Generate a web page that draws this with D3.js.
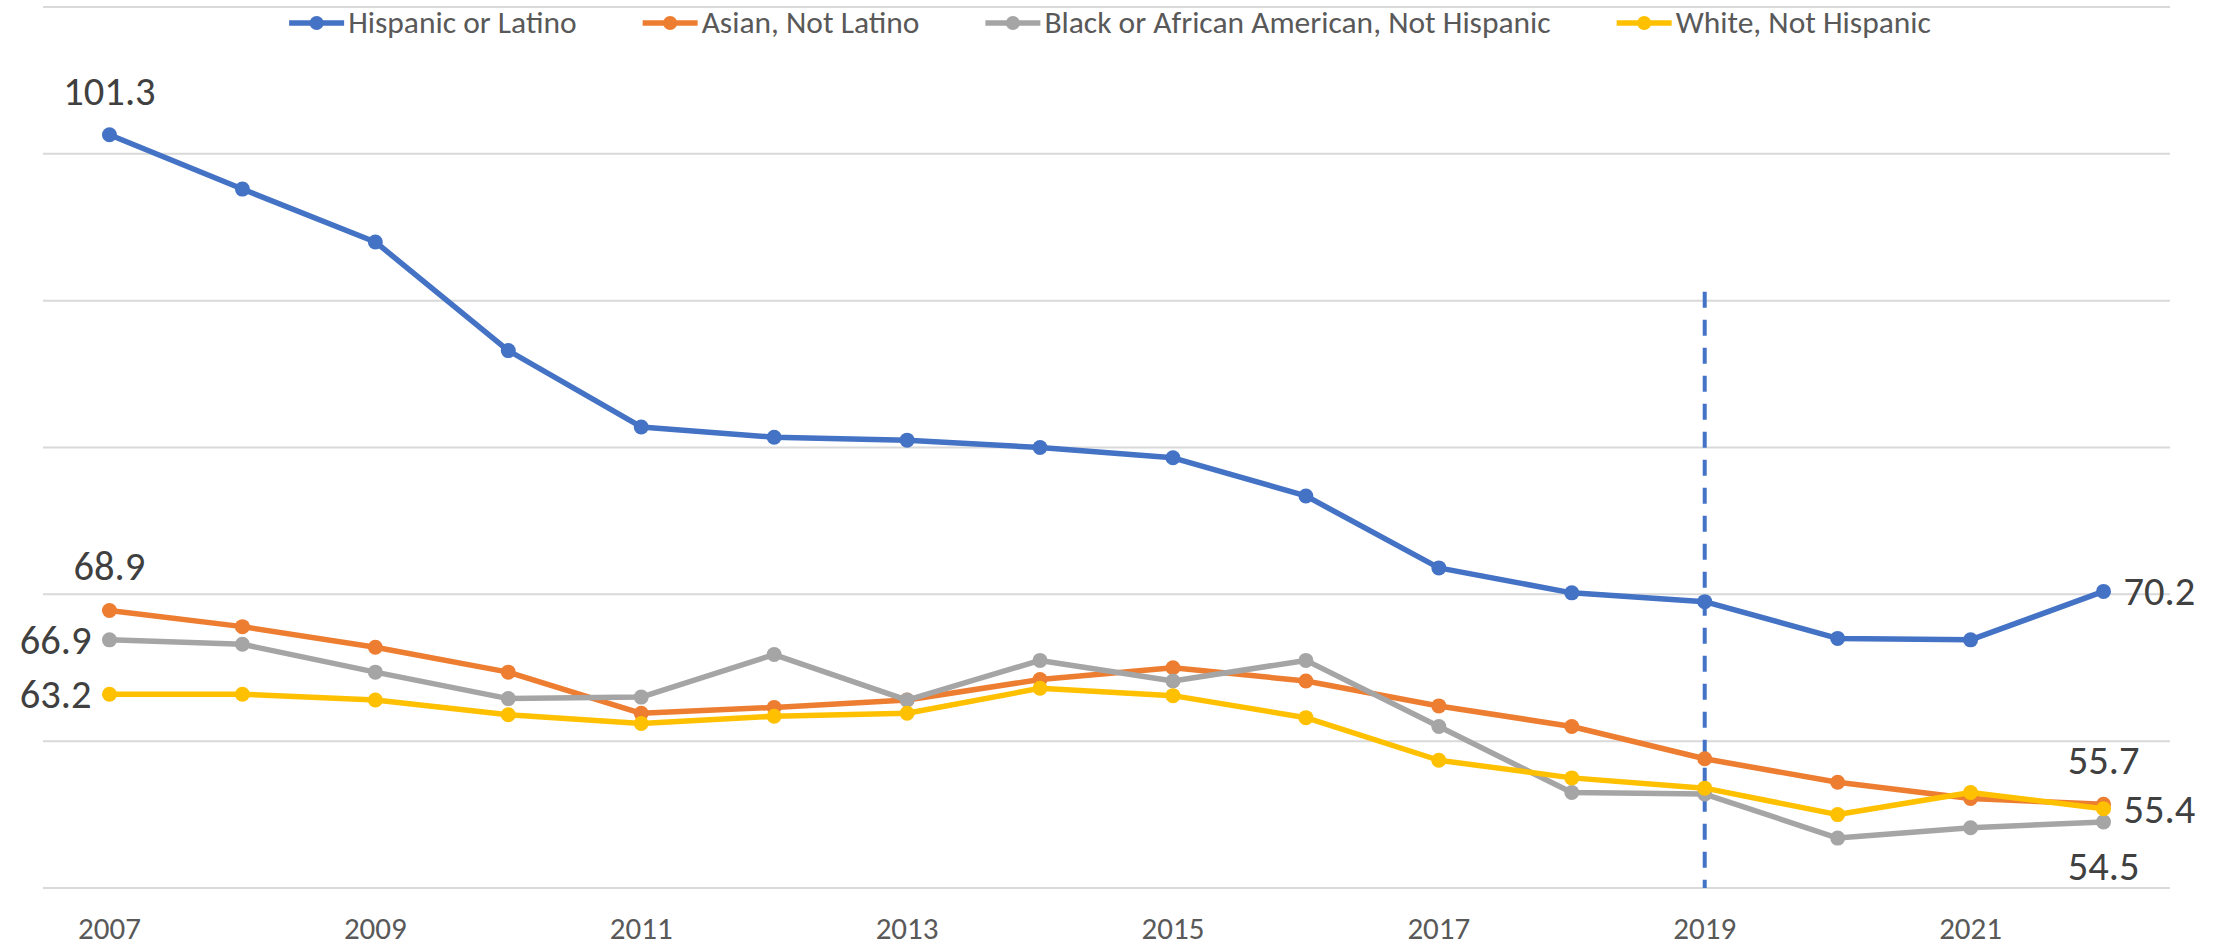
<!DOCTYPE HTML>
<html>
<head>
  <meta charset="utf-8">
</head>
<body style="margin:0;background:#fff;">
<style>
text { font-family: Carlito, Calibri, "Liberation Sans", Arial, sans-serif; }
.grid line { stroke: #d9d9d9; stroke-width: 2; }
.tick-label { fill: #595959; font-size: 31px; }
.legend text { fill: #595959; font-size: 31.5px; }
.value-label { fill: #404040; font-size: 40.5px; }
</style>
<svg width="2226" height="949"></svg>
<script src="https://d3js.org/d3.v7.min.js"></script>
<script>
var years = [2007, 2008, 2009, 2010, 2011, 2012, 2013, 2014, 2015, 2016, 2017, 2018, 2019, 2020, 2021, 2022];
var yearLabels = [2007, 2009, 2011, 2013, 2015, 2017, 2019, 2021];
var gridValues = [50, 60, 70, 80, 90, 100, 110];

var seriesNames = ["Hispanic or Latino", "Asian, Not Latino", "Black or African American, Not Hispanic", "White, Not Hispanic"];
var hispanic = [101.3, 97.6, 94.0, 86.6, 81.4, 80.7, 80.5, 80.0, 79.3, 76.7, 71.8, 70.1, 69.5, 67.0, 66.9, 70.2];
var asian    = [68.9, 67.8, 66.4, 64.7, 61.9, 62.3, 62.8, 64.2, 65.0, 64.1, 62.4, 61.0, 58.8, 57.2, 56.1, 55.7];
var black    = [66.9, 66.6, 64.7, 62.9, 63.0, 65.9, 62.8, 65.5, 64.1, 65.5, 61.0, 56.5, 56.4, 53.4, 54.1, 54.5];
var white    = [63.2, 63.2, 62.8, 61.8, 61.2, 61.7, 61.9, 63.6, 63.1, 61.6, 58.7, 57.5, 56.8, 55.0, 56.5, 55.4];
var colors = ["#4472c4", "#ed7d31", "#a5a5a5", "#ffc000"];

// labelled points: series index, point index, placement
var labels = [
  [0, 0, "above"], [1, 0, "above"], [2, 0, "left"], [3, 0, "left"],
  [0, 15, "right"], [1, 15, "above"], [3, 15, "right"], [2, 15, "below"]
];

var markerYear = 2019;
var markerTop = 90.6;

var svg = d3.select("svg");

var x = d3.scaleBand().domain(years).range([43, 2170]).padding(0);
var y = d3.scaleLinear().domain([50, 110]).range([888, 7]);
function cx(d) { return x(d) + x.bandwidth() / 2; }

var series = [hispanic, asian, black, white].map(function(vals, i) {
  return { name: seriesNames[i], color: colors[i],
           points: vals.map(function(v, j) { return { year: years[j], value: v }; }) };
});

svg.append("g")
    .attr("class", "grid")
  .selectAll("line")
  .data(gridValues)
  .enter().append("line")
    .attr("x1", x.range()[0])
    .attr("x2", x.range()[1])
    .attr("y1", function(d) { return y(d); })
    .attr("y2", function(d) { return y(d); });

svg.append("g")
  .selectAll("text")
  .data(yearLabels)
  .enter().append("text")
    .attr("class", "tick-label")
    .attr("x", function(d) { return cx(d); })
    .attr("y", 939)
    .attr("text-anchor", "middle")
    .text(function(d) { return d; });

svg.append("line")
    .attr("x1", cx(markerYear))
    .attr("x2", cx(markerYear))
    .attr("y1", y(markerTop))
    .attr("y2", y(50))
    .attr("stroke", "#4472c4")
    .attr("stroke-width", 4)
    .attr("stroke-dasharray", "16,12");

var line = d3.line()
    .x(function(d) { return cx(d.year); })
    .y(function(d) { return y(d.value); });

var g = svg.append("g")
  .selectAll("g")
  .data(series)
  .enter().append("g");

g.append("path")
    .attr("d", function(d) { return line(d.points); })
    .attr("fill", "none")
    .attr("stroke", function(d) { return d.color; })
    .attr("stroke-width", 5.5)
    .attr("stroke-linejoin", "round");

g.selectAll("circle")
  .data(function(d) { return d.points.map(function(p) { return { p: p, color: d.color }; }); })
  .enter().append("circle")
    .attr("cx", function(d) { return cx(d.p.year); })
    .attr("cy", function(d) { return y(d.p.value); })
    .attr("r", 7.5)
    .attr("fill", function(d) { return d.color; });

svg.append("g")
  .selectAll("text")
  .data(labels)
  .enter().append("text")
    .attr("class", "value-label")
    .each(function(d) {
      var p = series[d[0]].points[d[1]];
      var px = cx(p.year), py = y(p.value);
      var t = d3.select(this).text(p.value.toFixed(1));
      if (d[2] == "above") t.attr("x", px).attr("y", py - 30).attr("text-anchor", "middle");
      else if (d[2] == "below") t.attr("x", px).attr("y", py + 58).attr("text-anchor", "middle");
      else if (d[2] == "left") t.attr("x", px - 18).attr("y", py + 14).attr("text-anchor", "end");
      else t.attr("x", px + 20).attr("y", py + 14).attr("text-anchor", "start");
    });

// legend
var legend = svg.append("g").attr("class", "legend");
var items = legend.selectAll("g")
  .data(series)
  .enter().append("g");

items.append("line")
    .attr("x1", 0).attr("x2", 55)
    .attr("y1", 23).attr("y2", 23)
    .attr("stroke", function(d) { return d.color; })
    .attr("stroke-width", 5.5);
items.append("circle")
    .attr("cx", 27.5).attr("cy", 23).attr("r", 7)
    .attr("fill", function(d) { return d.color; });
items.append("text")
    .attr("x", 59).attr("y", 33)
    .text(function(d) { return d.name; });

var offset = 0, widths = [];
items.each(function() {
  var w = 59 + d3.select(this).select("text").node().getComputedTextLength();
  widths.push(w);
});
var total = d3.sum(widths) + 66 * (widths.length - 1);
offset = 1110 - total / 2;
items.attr("transform", function(d, i) {
  var tx = offset;
  offset += widths[i] + 66;
  return "translate(" + tx + ",0)";
});
</script>
</body>
</html>
